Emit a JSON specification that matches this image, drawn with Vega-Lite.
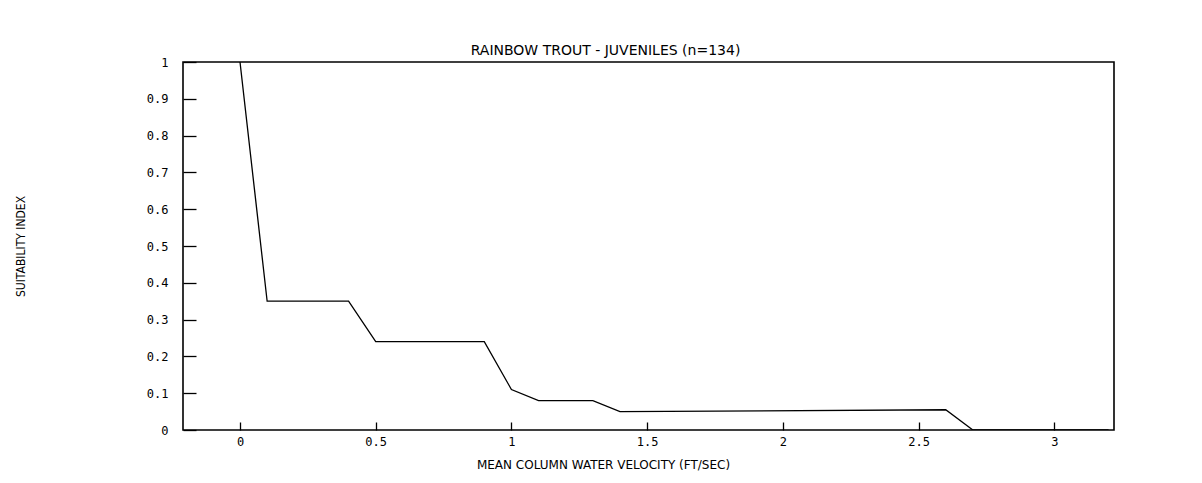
{
  "$schema": "https://vega.github.io/schema/vega-lite/v6.json",
  "autosize": "none",
  "padding": {"left": 183, "top": 62, "right": 88, "bottom": 53},
  "width": 931,
  "height": 368,
  "background": "white",
  "title": {
    "text": "RAINBOW TROUT - JUVENILES (n=134)",
    "font": "DejaVu Sans",
    "fontSize": 14,
    "fontWeight": "normal",
    "color": "black",
    "anchor": "middle",
    "dx": -43,
    "offset": -2
  },
  "config": {
    "view": {"stroke": "black", "strokeWidth": 1.6},
    "axis": {
      "grid": false,
      "domain": false,
      "ticks": true,
      "zindex": 1,
      "tickColor": "black",
      "tickWidth": 1.3,
      "tickOpacity": 1,
      "labelColor": "black",
      "labelFont": "DejaVu Sans Mono",
      "labelFontSize": 12,
      "titleColor": "black",
      "titleFontWeight": "normal"
    }
  },
  "data": {
    "values": [
      {"velocity": 0.0, "suitability": 1.0},
      {"velocity": 0.1, "suitability": 0.35},
      {"velocity": 0.4, "suitability": 0.35},
      {"velocity": 0.5, "suitability": 0.24},
      {"velocity": 0.9, "suitability": 0.24},
      {"velocity": 1.0, "suitability": 0.11},
      {"velocity": 1.1, "suitability": 0.08},
      {"velocity": 1.3, "suitability": 0.08},
      {"velocity": 1.4, "suitability": 0.05},
      {"velocity": 2.6, "suitability": 0.055},
      {"velocity": 2.7, "suitability": 0.0},
      {"velocity": 3.2, "suitability": 0.0}
    ]
  },
  "mark": {"type": "line", "color": "black", "strokeWidth": 1.3, "clip": true},
  "encoding": {
    "x": {
      "field": "velocity",
      "type": "quantitative",
      "scale": {"domain": [-0.21, 3.22], "nice": false, "zero": false},
      "axis": {
        "title": "MEAN COLUMN WATER VELOCITY (FT/SEC)",
        "values": [0, 0.5, 1, 1.5, 2, 2.5, 3],
        "format": "~g",
        "offset": -8,
        "tickSize": 8,
        "labelPadding": 6,
        "titleFont": "DejaVu Sans",
        "titleFontSize": 12,
        "titleX": 420,
        "titleY": 42,
        "titleBaseline": "middle"
      }
    },
    "y": {
      "field": "suitability",
      "type": "quantitative",
      "scale": {"domain": [0, 1], "nice": false},
      "axis": {
        "title": "SUITABILITY INDEX",
        "values": [0, 0.1, 0.2, 0.3, 0.4, 0.5, 0.6, 0.7, 0.8, 0.9, 1],
        "format": "~g",
        "offset": -13,
        "tickSize": 13,
        "labelPadding": 15,
        "titleFont": "DejaVu Sans Condensed",
        "titleFontSize": 12,
        "titleX": -176,
        "titleY": 184,
        "titleBaseline": "middle",
        "titleAngle": -90
      }
    }
  }
}
